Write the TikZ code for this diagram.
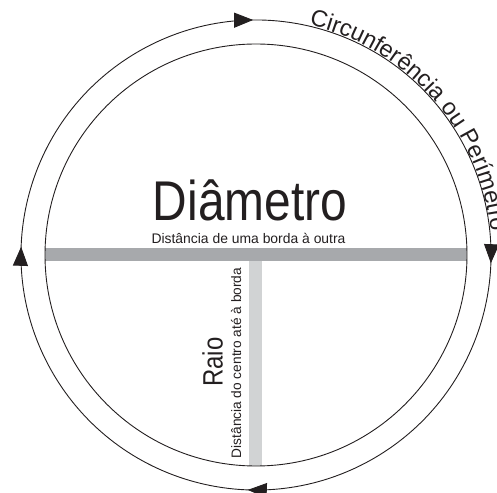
\documentclass[tikz,border=0pt]{standalone}
\usepackage{fontspec}
\setmainfont{Liberation Sans}
\usetikzlibrary{decorations.markings,decorations.text,arrows.meta}
\definecolor{ink}{HTML}{231F20}
\definecolor{diamgray}{HTML}{A7A9AC}
\definecolor{raiogray}{HTML}{D1D3D4}
\newcommand\arcfont{\fontsize{23.5}{23.5}\selectfont}
\tikzset{circtip/.tip={Triangle[length=19pt,width=15pt]}}
\begin{document}
\begin{tikzpicture}[x=1pt,y=1pt,line width=0.9pt,
  bigtext/.style={text=ink,inner sep=0pt,anchor=base},
]
\useasboundingbox (-256,-237) rectangle (241,255);
\coordinate (c) at (0,0);
% bars
\fill[diamgray] (-211,-6) rectangle (211,7);
\fill[raiogray] (-7,-211) rectangle (6,-6);
% inner circle
\draw[ink] (c) circle[radius=211];
% outer circle with arrows
\draw[ink,postaction={decorate},decoration={markings,
  mark=at position 0.0814 with {\arrow{circtip}},
  mark=at position 0.3389 with {\arrow{circtip}},
  mark=at position 0.5889 with {\arrow{circtip}},
  mark=at position 0.8389 with {\arrow{circtip}}}]
  (120:235) arc[start angle=120,end angle=-240,radius=235];
% text along the circle
\path[decorate,decoration={text along path,text color=ink,
  text={|\arcfont|Circunferência ou Perímetro},text align=left}]
  (77:236) arc[start angle=77,end angle=-12,radius=236];
% labels
\node[bigtext,font=\fontsize{56}{56}\selectfont] (diam) at (-6,34) {\scalebox{0.855}[1]{Diâmetro}};
\node[bigtext,font=\fontsize{13.9}{14}\selectfont] (diamsub) at (-7.5,11.5) {Distância de uma borda à outra};
\node[bigtext,rotate=90,font=\fontsize{28}{28}\selectfont] (raio) at (-33.5,-107) {\scalebox{0.855}[1]{Raio}};
\node[bigtext,rotate=90,font=\fontsize{13.7}{14}\selectfont] (raiosub) at (-15,-108) {Distância do centro até à borda};
\end{tikzpicture}
\end{document}
